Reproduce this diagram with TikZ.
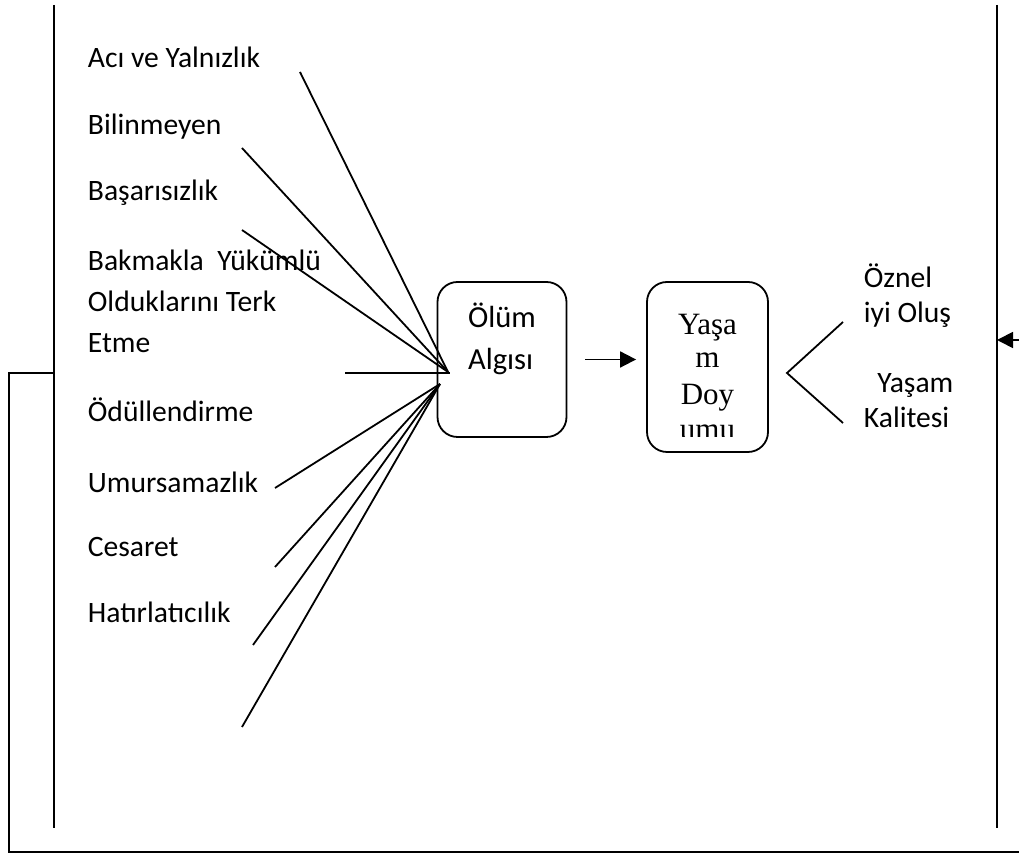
\documentclass[tikz,border=0pt]{standalone}
\usepackage{fontspec}
\setmainfont{Carlito}
\newfontfamily\timesyazi{Liberation Serif}
\usetikzlibrary{arrows.meta}

\tikzset{
  lbl/.style={anchor=west,inner sep=0pt,font=\fontsize{14.8}{20.5}\selectfont,align=left},
  kutu/.style={draw,rounded corners=10pt,inner sep=0pt},
  ok/.style={-{Triangle[length=8pt,width=8pt]}}
}

\begin{document}
\begin{tikzpicture}[x=0.5pt,y=-0.5pt,line width=0.9pt]
    \useasboundingbox (0,0) rectangle (1019,854);
    % outer frame
    \coordinate (ltop) at (54,5);
    \coordinate (lbot) at (54,828);
    \coordinate (rtop) at (997,5);
    \coordinate (rbot) at (997,828);
    \draw (ltop) -- (lbot);
    \draw (rtop) -- (rbot);
    \coordinate (kol) at (54,373);
    \draw (kol) -- (9,373) -- (9,852) -- (1019,852);
    \coordinate (giris) at (1019,340);
    \draw[ok] (giris) -- (giris -| rtop);

    % left labels
    \foreach \y/\name/\txt in {57/aci/Acı ve Yalnızlık, 127/bilinmeyen/Bilinmeyen,
        193/basarisizlik/Başarısızlık, 410/odul/Ödüllendirme,
        482/umursama/Umursamazlık, 547/cesaret/Cesaret, 612/hatirlatma/Hatırlatıcılık}
        \node[lbl] (\name) at (87,\y) {\txt};
    \node[lbl] (bakmakla) at (87,301) {Bakmakla\ \ Yükümlü\\Olduklarını Terk\\Etme};

    % boxes
    \node[kutu,minimum width=64.5pt,minimum height=77.5pt] (olum) at (502,359.5) {};
    \node[lbl,anchor=center,font=\fontsize{15.3}{21}\selectfont] (olumyazi) at (502,339) {Ölüm\\Algısı};
    \node[kutu,minimum width=60.5pt,minimum height=85pt] (yasam) at (707.5,367) {};
    \begin{scope}
        \clip (647,282) rectangle (768,437);
        \foreach \y/\txt in {335/Yaşa, 368/m, 405/Doy, 440/umu}
            \node[anchor=base,inner sep=0pt,font=\timesyazi\fontsize{15.5}{17}\selectfont] at (707.5,\y) {\txt};
    \end{scope}
    \draw[ok,shorten <=9pt,shorten >=5pt] (olum.east) -- (olum.east -| yasam.west);

    % fan of lines into Olum Algisi
    \coordinate (hub) at (448,372);
    \coordinate (hubalt) at (440,384);
    \foreach \p in {(300,72),(242,148),(242,230)}
        \draw \p -- (hub);
    \draw (345,373) -- (450,373);
    \foreach \p in {(275,488),(275,567),(253,645),(242,727)}
        \draw \p -- (hubalt);

    % right branch
    \coordinate (uc) at (787,373);
    \draw (843,322) -- (uc) -- (843,423);
    \node[lbl,font=\fontsize{14.8}{17.5}\selectfont] (oznel) at (863,295.5) {Öznel\\iyi Oluş};
    \node[lbl,font=\fontsize{14.8}{17.5}\selectfont] (kalite) at (863,400.5) {\ \ Yaşam\\Kalitesi};
\end{tikzpicture}
\end{document}
